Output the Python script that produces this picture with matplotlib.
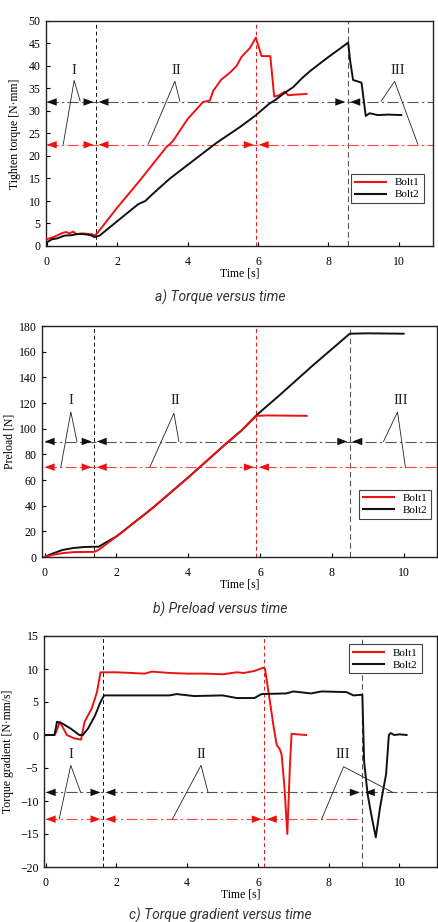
import matplotlib
matplotlib.use("Agg")
import matplotlib.pyplot as plt
from matplotlib.lines import Line2D

plt.rcParams['font.family'] = ['Liberation Serif', 'DejaVu Serif']
plt.rcParams['mathtext.fontset'] = 'stix'

# ---------------- data ----------------
# a) torque vs time
t_tq1 = [0, 0.2, 0.45, 0.55, 0.65, 0.75, 0.85, 1.0, 1.15, 1.3, 1.35, 1.42, 2.0, 2.65, 3.4, 3.52, 3.6,
         4.0, 4.44, 4.63, 4.73, 4.96, 5.2, 5.39, 5.53, 5.77, 5.94, 6.1, 6.35, 6.46, 6.6, 6.76, 6.86, 7.0, 7.38]
tq1 = [1.5, 2.0, 2.9, 3.1, 2.8, 3.2, 2.6, 2.8, 2.7, 2.6, 2.3, 2.7, 8.5, 14.6, 22.0, 22.8, 23.5,
       28.2, 32.0, 32.3, 34.5, 37.0, 38.5, 40.0, 42.0, 44.0, 46.3, 42.2, 42.2, 33.2, 33.5, 34.3, 33.5, 33.6, 33.8]
t_tq2 = [0, 0.15, 0.3, 0.5, 0.7, 0.9, 1.1, 1.25, 1.35, 1.5, 2.0, 2.6, 2.8, 3.0, 3.5, 4.0, 4.8, 5.5, 5.93,
         6.3, 6.5, 6.75, 7.0, 7.25, 7.5, 8.0, 8.3, 8.56, 8.62, 8.7, 8.94, 9.06, 9.17, 9.4, 9.7, 10.07]
tq2 = [0.8, 1.5, 1.7, 2.3, 2.4, 2.7, 2.6, 2.4, 2.0, 2.3, 5.5, 9.3, 10.0, 11.5, 15.0, 18.0, 22.8, 26.5, 29.0,
       31.5, 32.5, 34.0, 35.3, 37.3, 39.0, 42.0, 43.7, 45.2, 41.0, 36.9, 36.3, 28.9, 29.5, 29.1, 29.2, 29.1]

# b) preload vs time
t_pl1 = [0, 0.2, 0.5, 0.8, 1.38, 1.5, 2.0, 2.5, 3.0, 3.5, 4.0, 4.5, 5.0, 5.5, 5.9, 6.2, 7.3]
pl1 = [0, 1.5, 3.0, 3.8, 4.0, 5.5, 16, 27, 38, 50, 62, 74.5, 87, 99, 110, 110.3, 110]
t_pl2 = [0, 0.2, 0.5, 0.8, 1.1, 1.38, 1.5, 2.0, 2.5, 3.0, 3.5, 4.0, 4.5, 5.0, 5.5, 5.9, 6.5, 7.0, 7.5,
         8.0, 8.5, 9.0, 10.0]
pl2 = [0, 2.5, 5.5, 7.0, 7.8, 8.0, 8.0, 16, 27, 38, 50, 62, 74.5, 87, 99, 110.5, 125, 137.5, 150,
       162, 174, 174.3, 174]

# c) torque gradient vs time
t_gr1 = [0, 0.25, 0.3, 0.4, 0.5, 0.6, 0.8, 1.0, 1.1, 1.3, 1.45, 1.55, 2.0, 2.8, 3.0, 3.5, 4.0, 4.5, 5.0,
         5.4, 5.6, 5.9, 6.15, 6.2, 6.34, 6.45, 6.53, 6.62, 6.67, 6.75, 6.83, 6.9, 6.95, 7.1, 7.36]
gr1 = [0, 0, 0.5, 2.0, 1.0, 0, -0.5, -0.7, 2.0, 4.0, 6.5, 9.5, 9.5, 9.3, 9.6, 9.4, 9.3, 9.3, 9.2,
       9.5, 9.4, 9.7, 10.2, 10.0, 5.0, 1.0, -1.5, -2.2, -3.0, -8.0, -15.0, -5.0, 0.2, 0.1, 0]
t_gr2 = [0, 0.25, 0.32, 0.45, 0.7, 0.95, 1.05, 1.2, 1.4, 1.55, 1.65, 2.5, 3.5, 3.7, 4.2, 5.0, 5.4, 5.9,
         6.1, 6.8, 7.0, 7.5, 7.8, 8.5, 8.7, 8.95, 9.0, 9.1, 9.2, 9.33, 9.45, 9.55, 9.62, 9.7, 9.75, 9.85,
         10.0, 10.2]
gr2 = [0, 0, 2.0, 1.8, 1.0, 0, 0, 1.0, 3.0, 5.0, 6.0, 6.0, 6.0, 6.2, 5.9, 6.0, 5.6, 5.6,
       6.2, 6.3, 6.6, 6.3, 6.6, 6.5, 6.0, 6.1, -4.0, -9.0, -12.0, -15.5, -11.0, -8.0, -6.0, 0, 0.3, 0,
       0.1, 0]

# phase boundaries [bolt2/black, bolt1/red, bolt2 end]
bounds_a = [1.4, 5.95, 8.55]
bounds_b = [1.38, 5.9, 8.5]
bounds_c = [1.62, 6.18, 8.95]
phase_labels = ['I', 'II', 'III']
x_ticks = [0, 2, 4, 6, 8, 10]

RED = '#ee1111'
BLACK = '#111111'
GRAY = '#555555'
LRED = '#ff4444'


def head(ax, x, y, direction, color):
    ax.annotate('', xy=(x, y), xytext=(x - direction * 0.3, y),
                arrowprops=dict(arrowstyle='-|>,head_length=0.8,head_width=0.3',
                                color=color, lw=0, shrinkA=0, shrinkB=0,
                                mutation_scale=9), zorder=5)


def setup(ax, xlim, ylim, yticks, ylabel, ylabelpad=5):
    ax.set_xlim(*xlim)
    ax.set_ylim(*ylim)
    ax.set_xticks(x_ticks)
    ax.set_yticks(yticks)
    ax.tick_params(direction='in', length=3, width=0.8, labelsize=8.5, pad=7)
    ax.tick_params(axis='y', pad=4)
    for s in ax.spines.values():
        s.set_linewidth(1.0)
        s.set_color('#222222')
    ax.set_xlabel('Time [s]', fontsize=8.5, labelpad=0)
    ax.set_ylabel(ylabel, fontsize=8.5, labelpad=ylabelpad)


def phases(ax, b, yb, yr, xmax, red_end=None):
    ax.axvline(b[0], color=BLACK, lw=0.7, ls=(0, (4, 3)), zorder=1)
    ax.axvline(b[1], color=RED, lw=0.7, ls=(0, (4, 3)), zorder=1)
    ax.axvline(b[2], color=GRAY, lw=0.8, ls=(0, (5, 3)), zorder=1)
    ax.plot([0, xmax], [yb, yb], color=GRAY, lw=0.8, ls=(0, (10, 3, 2, 3)), zorder=1)
    ax.plot([0, red_end if red_end else xmax], [yr, yr], color=LRED, lw=0.8,
            ls=(0, (10, 3, 2, 3)), zorder=1)
    g = 0.07
    head(ax, 0.0, yb, -1, BLACK)
    head(ax, b[0] - g, yb, 1, BLACK)
    head(ax, b[0] + g, yb, -1, BLACK)
    head(ax, b[2] - g, yb, 1, BLACK)
    head(ax, b[2] + g, yb, -1, BLACK)
    head(ax, 0.0, yr, -1, RED)
    head(ax, b[0] - g, yr, 1, RED)
    head(ax, b[0] + g, yr, -1, RED)
    head(ax, b[1] - g, yr, 1, RED)
    head(ax, b[1] + g, yr, -1, RED)


def labels(ax, specs):
    for lab, (lx, ly), apex, e1, e2 in specs:
        ax.text(lx, ly, lab, fontsize=10.5, ha='center', va='center', color='#222222')
        ax.plot([e1[0], apex[0], e2[0]], [e1[1], apex[1], e2[1]], color='#222222', lw=0.6, zorder=4)


def legend(ax, loc, bbox):
    h = [Line2D([], [], color=RED, lw=1.5), Line2D([], [], color=BLACK, lw=1.5)]
    lg = ax.legend(h, ['Bolt1', 'Bolt2'], loc=loc, bbox_to_anchor=bbox, fontsize=8,
                   fancybox=False, edgecolor='#444444', framealpha=1, handlelength=2.8,
                   borderpad=0.35, labelspacing=0.2, handletextpad=0.8)
    lg.get_frame().set_linewidth(0.8)


fig = plt.figure(figsize=(4.38, 9.22), dpi=100)
W, H = 438, 922


def axes_px(l, t, r, b):
    return fig.add_axes([l / W, 1 - b / H, (r - l) / W, (b - t) / H])


CAP = dict(ha='center', va='center', fontsize=10, style='italic', color='#333333',
           family=['Roboto', 'DejaVu Sans'])

# ---------- a ----------
ax = axes_px(46, 21, 433, 246)
setup(ax, (-0.02, 10.97), (0, 50), list(range(0, 51, 5)), 'Tighten torque [N·mm]')
phases(ax, bounds_a, 32, 22.5, 10.97)
ax.plot(t_tq1, tq1, color=RED, lw=1.4, zorder=3)
ax.plot(t_tq2, tq2, color=BLACK, lw=1.4, zorder=3)
labels(ax, [('I', (0.76, 39), (0.78, 36.8), (0.95, 32.2), (0.47, 22.6)),
            ('II', (3.67, 39), (3.64, 36.6), (3.78, 32.2), (2.88, 22.6)),
            ('III', (9.96, 39), (9.88, 36.6), (9.5, 32.2), (10.54, 22.6))])
legend(ax, 'lower right', (0.99, 0.165))
fig.text(220 / W, 1 - 297 / H, 'a) Torque versus time', **CAP)

# ---------- b ----------
ax = axes_px(42, 326, 437, 557)
setup(ax, (-0.074, 10.93), (0, 180), list(range(0, 181, 20)), 'Preload [N]', ylabelpad=2)
phases(ax, bounds_b, 90, 70, 10.93)
ax.plot(t_pl2, pl2, color=BLACK, lw=1.4, zorder=3)
ax.plot(t_pl1, pl1, color=RED, lw=1.4, zorder=3)
labels(ax, [('I', (0.73, 122), (0.73, 113), (0.9, 90), (0.45, 70)),
            ('II', (3.63, 122), (3.6, 112), (3.74, 90), (2.93, 70)),
            ('III', (9.93, 122), (9.83, 113), (9.44, 90), (10.05, 70))])
legend(ax, 'lower right', (1.0, 0.14))
fig.text(220 / W, 1 - 609 / H, 'b) Preload versus time', **CAP)

# ---------- c ----------
ax = axes_px(44, 636, 437, 867)
setup(ax, (-0.047, 11.06), (-20, 15), list(range(-20, 16, 5)), 'Torque gradient [N·mm/s]', ylabelpad=4)
phases(ax, bounds_c, -8.7, -12.75, 11.06, red_end=8.89)
ax.plot(t_gr1, gr1, color=RED, lw=1.4, zorder=3)
ax.plot(t_gr2, gr2, color=BLACK, lw=1.4, zorder=3)
labels(ax, [('I', (0.71, -3.0), (0.71, -4.6), (0.99, -8.7), (0.38, -12.75)),
            ('II', (4.39, -3.0), (4.39, -4.6), (4.59, -8.7), (3.58, -12.75)),
            ('III', (8.4, -3.0), (8.42, -4.8), (9.81, -8.7), (7.8, -12.75))])
legend(ax, 'upper right', (0.975, 0.99))
fig.text(220 / W, 1 - 915 / H, 'c) Torque gradient versus time', **CAP)

fig.savefig('out.png', dpi=100)
